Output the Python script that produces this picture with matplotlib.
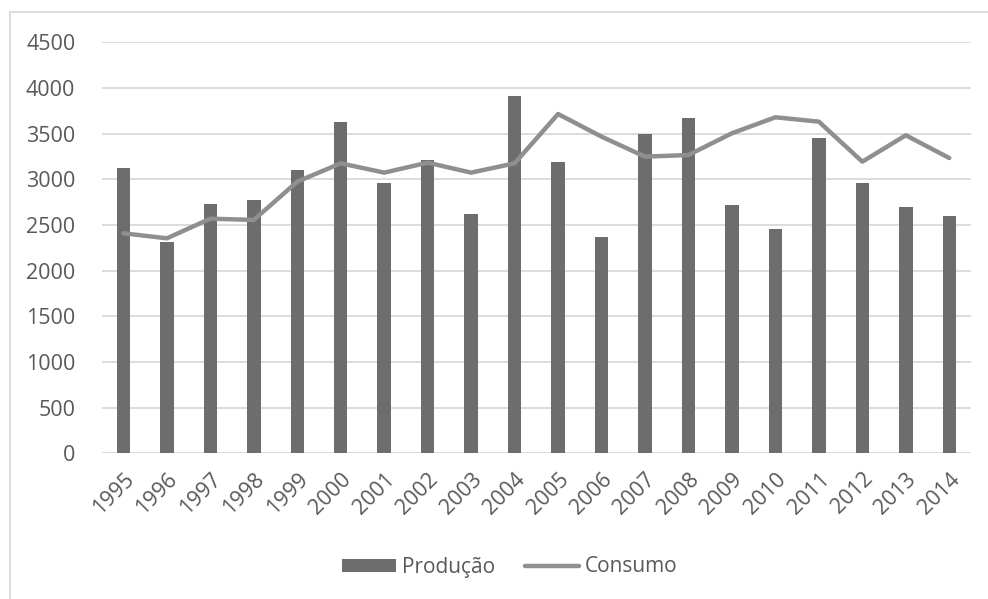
import numpy as np
import matplotlib.pyplot as plt
from matplotlib.patches import Rectangle

plt.rcParams['font.family'] = ['Open Sans', 'DejaVu Sans']

# Dados
anos = ['1995', '1996', '1997', '1998', '1999', '2000', '2001', '2002', '2003', '2004',
        '2005', '2006', '2007', '2008', '2009', '2010', '2011', '2012', '2013', '2014']
producao = [3120, 2317, 2733, 2773, 3105, 3627, 2963, 3208, 2617, 3916,
            3193, 2368, 3496, 3668, 2715, 2456, 3452, 2960, 2700, 2602]
consumo = [2409, 2354, 2569, 2555, 2974, 3175, 3073, 3182, 3073, 3175,
           3715, 3467, 3248, 3266, 3504, 3679, 3631, 3193, 3482, 3233]

fig = plt.figure(figsize=(9.88, 5.99), dpi=100)
# moldura da área do gráfico (cortada à direita e embaixo)
fig.patches.append(Rectangle((10/988, -0.1), 1.1, 1 - 12/599 + 0.1,
                             transform=fig.transFigure, fill=False,
                             edgecolor='#d9d9d9', linewidth=1.3))

ax = fig.add_axes([0.1029, 0.2432, 0.8799, 0.6862])
x = np.arange(len(anos))
barras = ax.bar(x, producao, width=0.31, color='#6d6d6d', label='Produção', zorder=2)
linha, = ax.plot(x, consumo, color='#8f8f8f', linewidth=3.2, solid_capstyle='round',
                 solid_joinstyle='round', label='Consumo', zorder=3)

ax.set_xlim(-0.5, len(anos) - 0.5)
ax.set_ylim(0, 4500)
ax.set_yticks(np.arange(0, 4501, 500))
ax.grid(axis='y', color='#d9d9d9', linewidth=1.3, zorder=0)
ax.set_axisbelow(True)
for s in ax.spines.values():
    s.set_visible(False)
ax.tick_params(length=0, labelsize=15.5, labelcolor='#595959')
ax.tick_params(axis='y', pad=19)
ax.set_xticks(x)
ax.set_xticklabels(anos, rotation=45, ha='right', rotation_mode='anchor')
ax.tick_params(axis='x', pad=11)

fig.legend([barras, linha], ['Produção', 'Consumo'], loc='center',
           bbox_to_anchor=(0.516, 1 - 567/599), ncol=2,
           frameon=False, fontsize=15, labelcolor='#595959',
           handlelength=2.6, handleheight=0.6, handletextpad=0.3,
           columnspacing=1.4)

fig.savefig('out.png', dpi=100)
